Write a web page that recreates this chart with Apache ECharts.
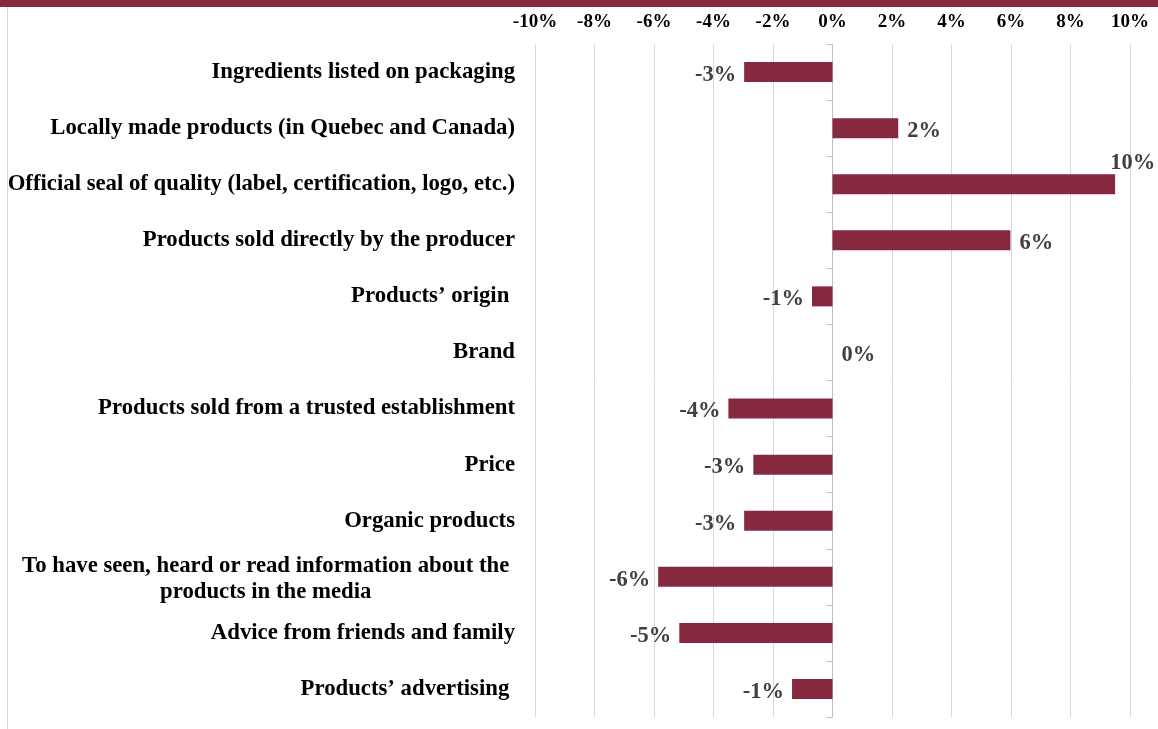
<!DOCTYPE html>
<html>
<head>
<meta charset="utf-8">
<script src="https://cdn.jsdelivr.net/npm/echarts@6/dist/echarts.min.js"></script>
<style>
  html, body { margin: 0; padding: 0; background: #fff; }
  #chart { width: 1158px; height: 729px; }
</style>
</head>
<body>
<div id="chart"></div>
<script>
// Change in importance of each purchase criterion (percentage points)
const categories = [
  'Ingredients listed on packaging',
  'Locally made products (in Quebec and Canada)',
  'Official seal of quality (label, certification, logo, etc.)',
  'Products sold directly by the producer',
  'Products\u2019 origin ',
  'Brand',
  'Products sold from a trusted establishment',
  'Price',
  'Organic products',
  'To have seen, heard or read information about the \nproducts in the media ',
  'Advice from friends and family',
  'Products\u2019 advertising '
];
const values = [-2.97, 2.21, 9.5, 5.98, -0.69, 0, -3.5, -2.66, -2.97, -5.86, -5.15, -1.36];

const axisMin = -10;
const axisMax = 10;
const axisStep = 2;

const FONT = '"Liberation Serif", "Times New Roman", serif';
const MAROON = '#86283f';

const gridLeft = 535, gridRight = 28, gridTop = 44, gridBottom = 12;
const gridWidth = 1158 - gridLeft - gridRight;
const zeroOffset = -gridWidth * (0 - axisMin) / (axisMax - axisMin);

const barData = values.map(function (v) {
  const item = { value: v, label: {} };
  if (v < 0) {
    item.label = { position: 'left', distance: 8, offset: [0, 3] };
  } else if (v >= 9) {
    // long bar: value sits above the end of the bar
    item.label = { position: 'right', distance: 8, offset: [-13, -21] };
  } else {
    item.label = { position: 'right', distance: 9, offset: [0, 3] };
  }
  return item;
});

const labelFont = {
  fontFamily: FONT,
  fontSize: 22.75,
  fontWeight: 'bold',
  color: '#000000',
  align: 'center',
  lineHeight: 26
};

const chart = echarts.init(document.getElementById('chart'), null, { renderer: 'canvas' });

chart.setOption({
  animation: false,
  backgroundColor: '#ffffff',
  textStyle: { fontFamily: FONT },
  grid: { left: gridLeft, right: gridRight, top: gridTop, bottom: gridBottom, containLabel: false },
  graphic: [
    { type: 'rect', shape: { x: 0, y: 0, width: 1158, height: 7 }, style: { fill: MAROON }, silent: true },
    { type: 'line', shape: { x1: 7.5, y1: 7, x2: 7.5, y2: 729 }, style: { stroke: '#d9d9d9', lineWidth: 1 }, silent: true }
  ],
  xAxis: {
    type: 'value',
    position: 'top',
    min: axisMin,
    max: axisMax,
    interval: axisStep,
    axisLine: { show: false },
    axisTick: { show: false },
    splitLine: { show: true, lineStyle: { color: '#d9d9d9', width: 1 } },
    axisLabel: {
      formatter: '{value}%',
      margin: 12,
      fontFamily: FONT,
      fontSize: 19,
      fontWeight: 'bold',
      color: '#000000'
    }
  },
  yAxis: [
    {
      type: 'category',
      data: categories,
      inverse: true,
      position: 'left',
      axisLine: { show: false },
      axisTick: { show: false },
      splitLine: { show: false },
      axisLabel: {
        margin: 20,
        fontFamily: FONT,
        fontSize: 22.75,
        fontWeight: 'bold',
        color: '#000000',
        formatter: function (s) {
          const lines = s.split('\n');
          const key = lines.length > 1 ? 'm' : 'c';
          return lines.map(function (line) { return '{' + key + '|' + line + '}'; }).join('\n');
        },
        rich: {
          c: Object.assign({}, labelFont),
          m: Object.assign({ padding: [5, 0, 0, 0] }, labelFont)
        }
      }
    },
    {
      // zero line with category separators
      type: 'category',
      data: categories,
      inverse: true,
      position: 'left',
      offset: zeroOffset,
      axisLine: { show: true, lineStyle: { color: '#bfbfbf', width: 1 } },
      axisTick: { show: true, length: 6, lineStyle: { color: '#bfbfbf', width: 1 } },
      axisLabel: { show: false },
      splitLine: { show: false }
    }
  ],
  series: [
    {
      type: 'bar',
      yAxisIndex: 0,
      data: barData,
      barWidth: 20,
      itemStyle: { color: MAROON },
      label: {
        show: true,
        fontFamily: FONT,
        fontSize: 22.5,
        fontWeight: 'bold',
        color: '#404040',
        formatter: function (p) { return Number(p.value).toFixed(0) + '%'; }
      }
    }
  ]
});
</script>
</body>
</html>
